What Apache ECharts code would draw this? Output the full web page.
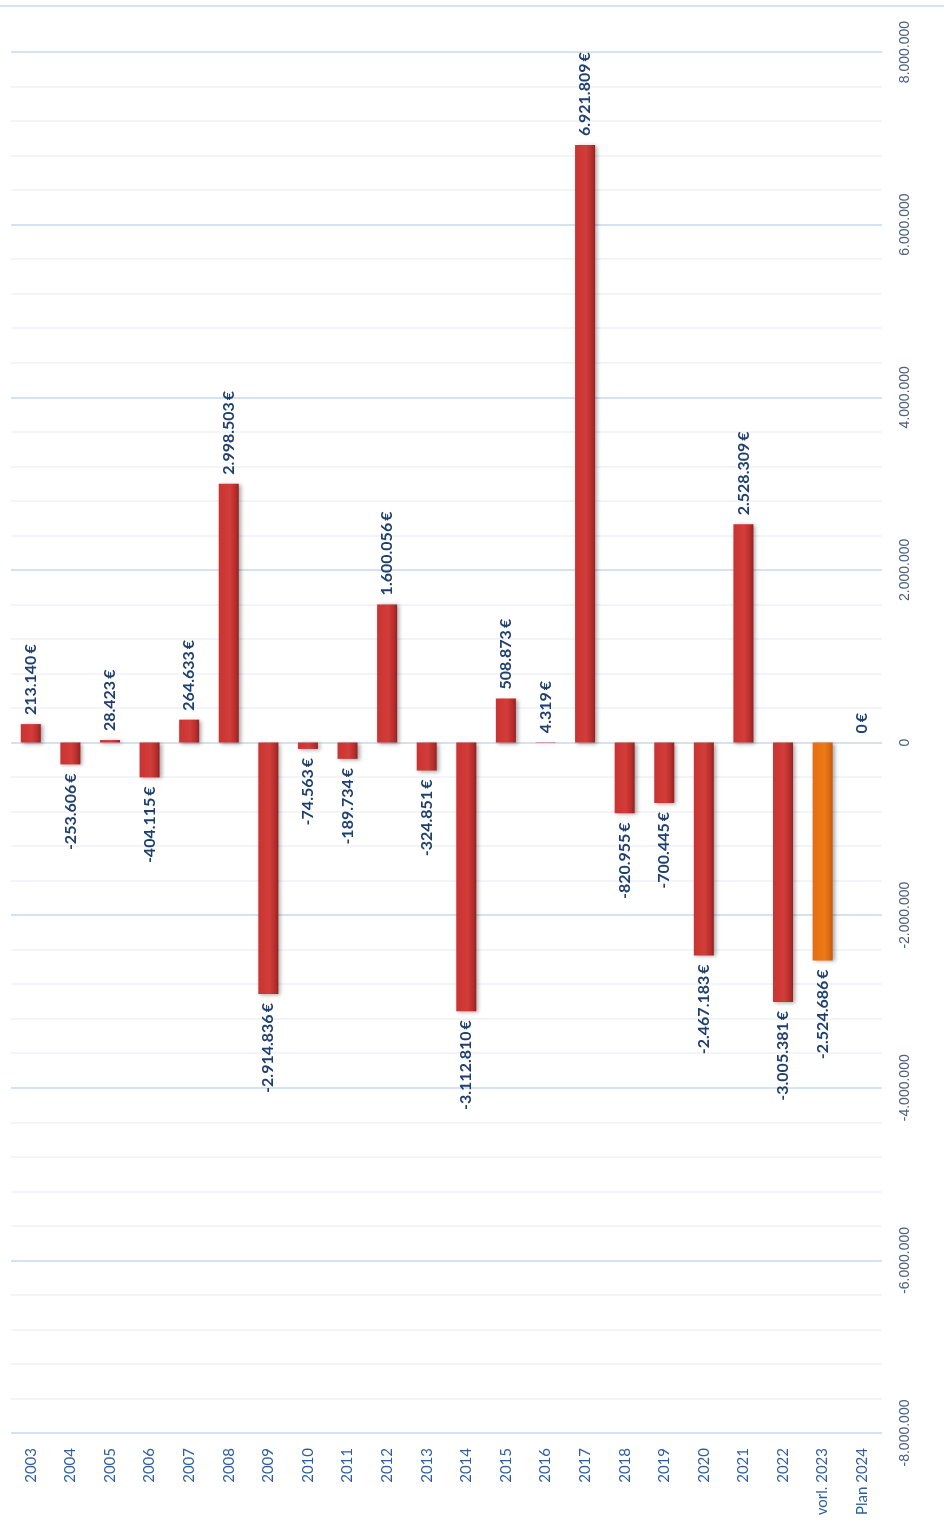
<!DOCTYPE html>
<html>
<head>
<meta charset="utf-8">
<script src="https://cdn.jsdelivr.net/npm/echarts@6/dist/echarts.min.js"></script>
<style>html,body{margin:0;padding:0;background:#fff}#c{width:944px;height:1520px}</style>
</head>
<body>
<div id="c"></div>
<script>
const categories = ['2003','2004','2005','2006','2007','2008','2009','2010','2011','2012','2013','2014','2015','2016','2017','2018','2019','2020','2021','2022','vorl. 2023','Plan 2024'];
const values = [213140, -253606, 28423, -404115, 264633, 2998503, -2914836, -74563, -189734, 1600056, -324851, -3112810, 508873, 4319, 6921809, -820955, -700445, -2467183, 2528309, -3005381, -2524686, 0];
const highlightIndex = [20];
const axisMin = -8000000, axisMax = 8000000, axisInterval = 2000000;

function fmt(v) {
  const s = Math.abs(v).toString().replace(/\B(?=(\d{3})+(?!\d))/g, '.');
  return (v < 0 ? '-' : '') + s;
}
const redGrad = new echarts.graphic.LinearGradient(0,0,1,0,[
  {offset:0,color:'#C93432'},{offset:0.55,color:'#D23D3A'},{offset:0.85,color:'#B52D2B'},{offset:1,color:'#952020'}]);
const orangeGrad = new echarts.graphic.LinearGradient(0,0,1,0,[
  {offset:0,color:'#E56E12'},{offset:0.6,color:'#EB7A18'},{offset:0.88,color:'#D9650C'},{offset:1,color:'#C2570A'}]);

const data = values.map((v, i) => ({
  value: v,
  itemStyle: { color: highlightIndex.includes(i) ? orangeGrad : redGrad },
  label: { position: v >= 0 ? 'top' : 'bottom', align: v >= 0 ? 'left' : 'right' }
}));

const chart = echarts.init(document.getElementById('c'), null, {renderer:'canvas'});
chart.setOption({
  animation: false,
  backgroundColor: '#fff',
  grid: { left: 11, right: 62, top: 52, bottom: 87, containLabel: false },
  graphic: [{ type: 'line', shape: { x1: 0, y1: 6, x2: 944, y2: 6 }, style: { stroke: '#D5E2F0', lineWidth: 2 } }],
  xAxis: {
    type: 'category', data: categories, position: 'bottom',
    axisLine: { show: false }, axisTick: { show: false },
    axisLabel: { rotate: 90, color: '#2E5E9E', fontFamily: 'Lato', fontSize: 15, margin: 15, interval: 0 }
  },
  yAxis: {
    type: 'value', position: 'right', min: axisMin, max: axisMax, interval: axisInterval,
    axisLine: { show: false }, axisTick: { show: false },
    axisLabel: { rotate: 90, color: '#4A6080', fontFamily: 'Liberation Sans', fontSize: 14, margin: 16, formatter: v => fmt(v) },
    splitLine: { show: true, lineStyle: { color: '#C7D8EE', width: 1.5 } },
    minorTick: { show: false, splitNumber: 5 },
    minorSplitLine: { show: true, lineStyle: { color: '#EEF1F5', width: 1.5 } }
  },
  series: [{
    type: 'bar', data: data, barWidth: 20,
    itemStyle: { shadowColor: 'rgba(0,0,0,0.35)', shadowBlur: 4, shadowOffsetX: 2, shadowOffsetY: 1 },
    label: {
      show: true, rotate: 90, distance: 9, verticalAlign: 'middle',
      color: '#1F3F6E', fontFamily: 'Lato', fontWeight: 'bold', fontSize: 16,
      formatter: p => fmt(p.value) + '\u2009€'
    }
  }]
});
</script>
</body>
</html>
